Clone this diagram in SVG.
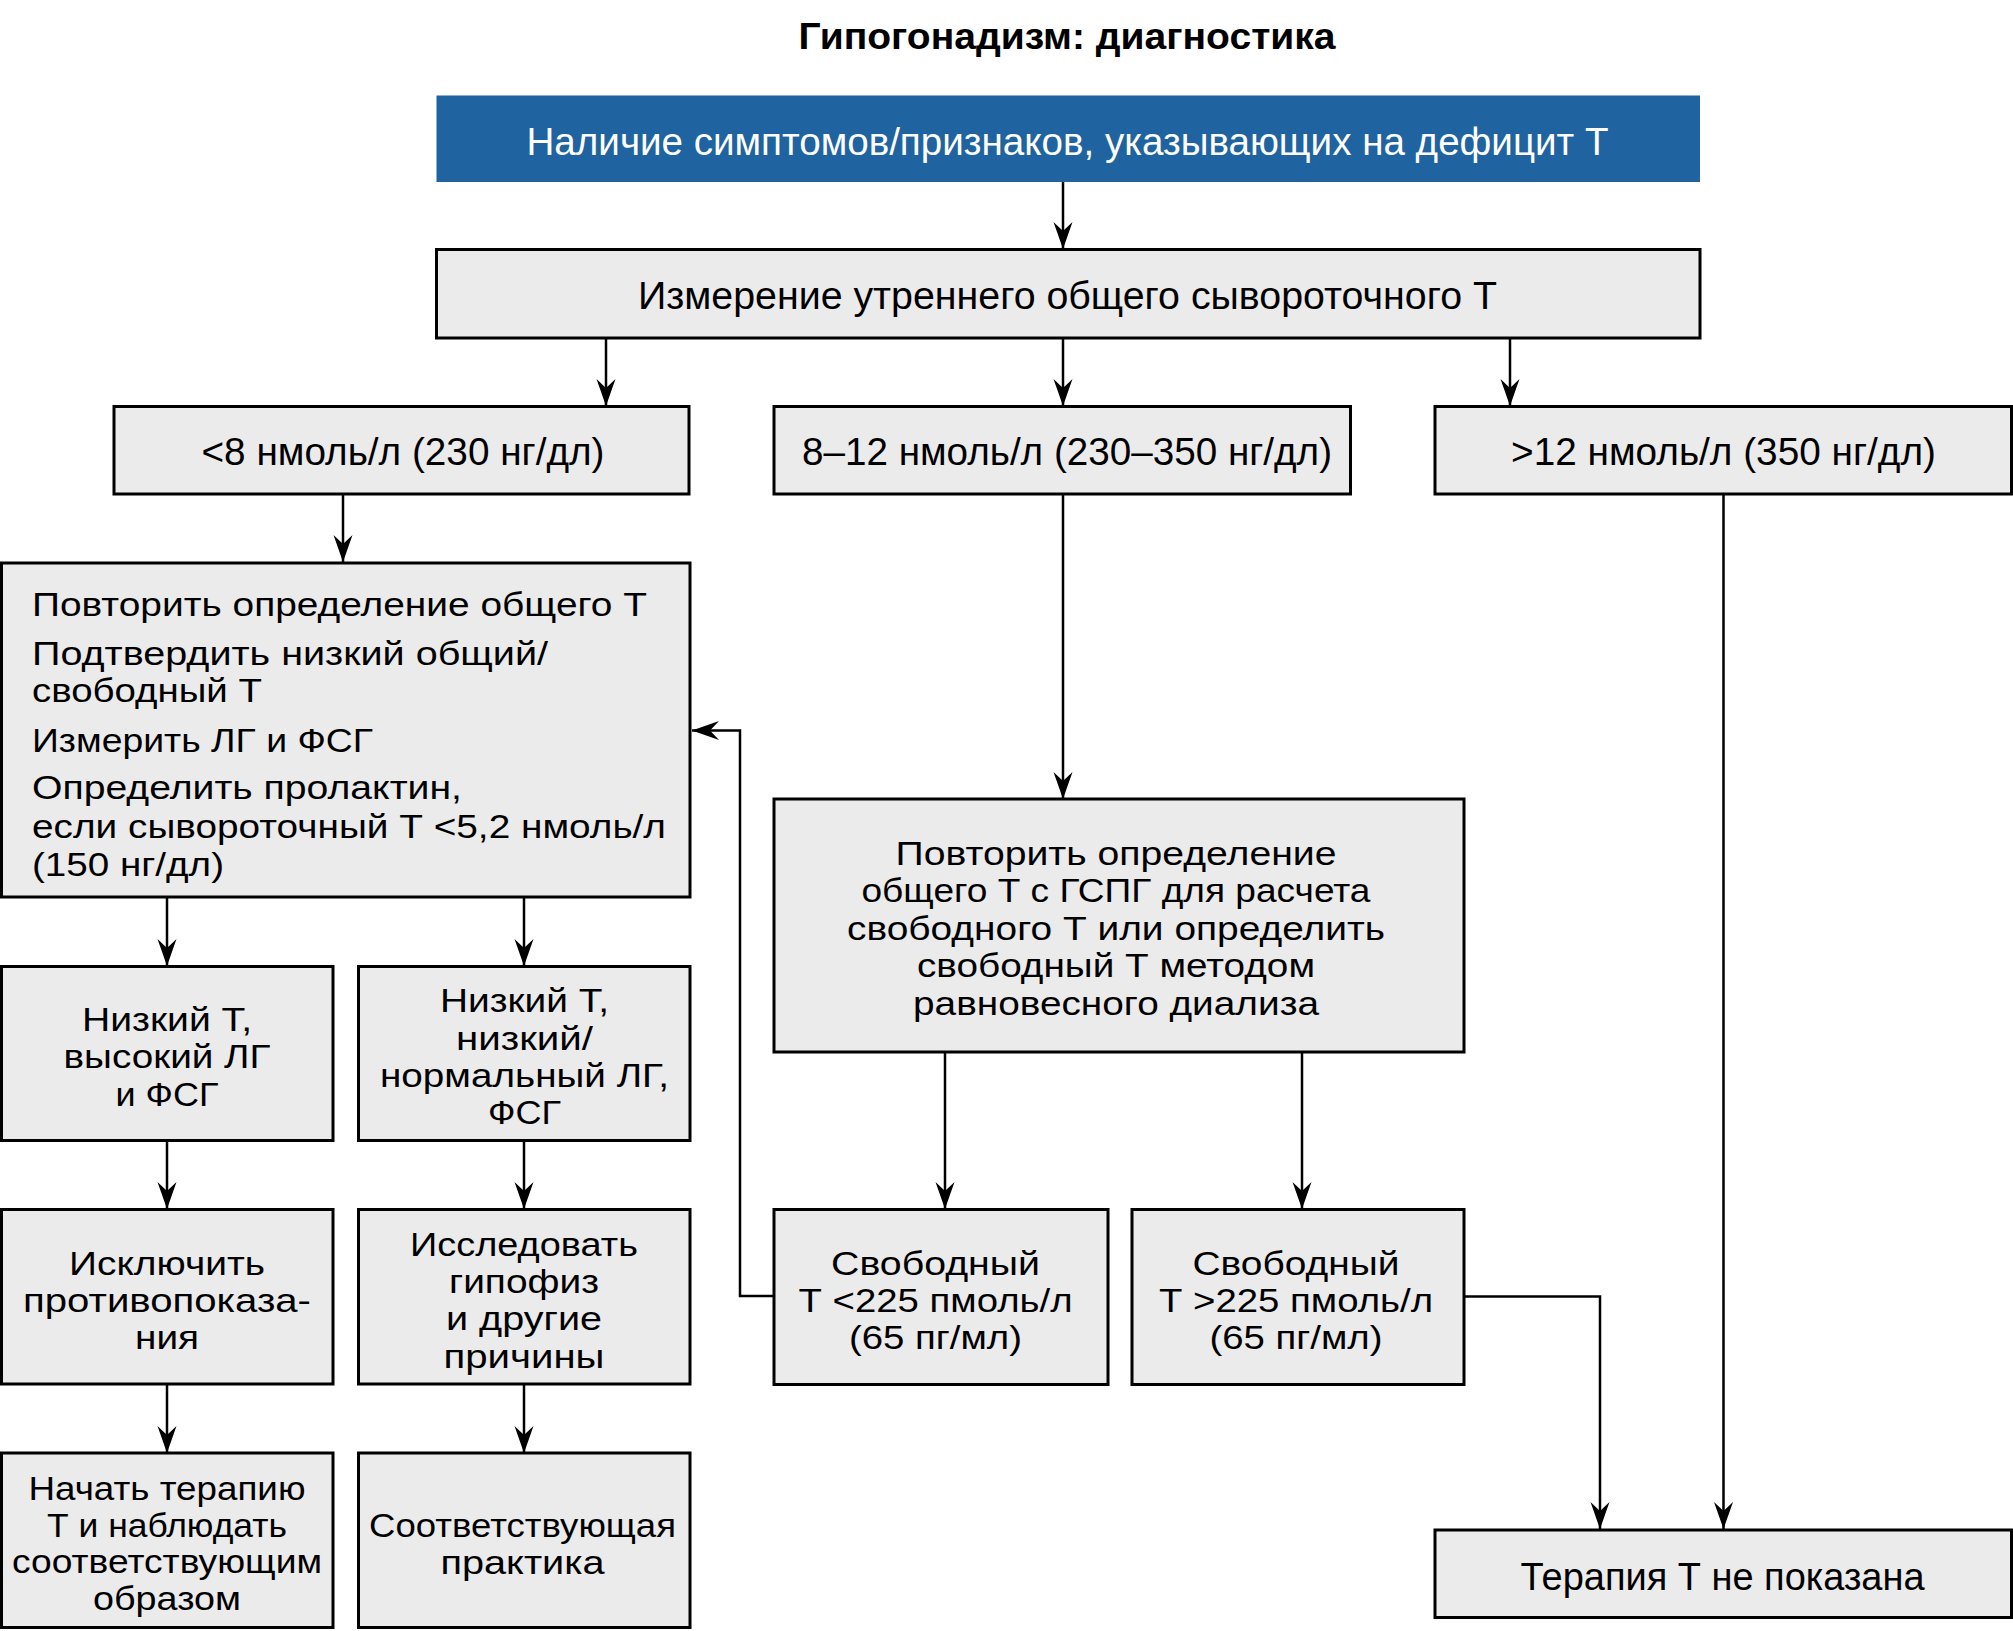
<svg xmlns="http://www.w3.org/2000/svg" width="2013" height="1631" viewBox="0 0 2013 1631">
<defs>
<marker id="ah" markerUnits="userSpaceOnUse" markerWidth="32" markerHeight="24" viewBox="-29 -12 32 24" refX="0" refY="0" orient="auto">
<path d="M0,0 L-27,-9.5 L-18,0 L-27,9.5 Z" fill="#000"/>
</marker>
</defs>
<style>
.box{fill:#ebebeb;stroke:#000;stroke-width:3}
.t{font-family:"Liberation Sans",Arial,sans-serif;font-size:38px;fill:#000}
.m{font-size:32.5px}
.c{text-anchor:middle}
.w{fill:#fff}
.ln{fill:none;stroke:#000;stroke-width:2.5}
.title{font-family:"Liberation Sans",Arial,sans-serif;font-size:36px;font-weight:bold;text-anchor:middle}
</style>
<rect width="2013" height="1631" fill="#fff"/>
<text class="title" x="1067" y="49" textLength="537" lengthAdjust="spacingAndGlyphs">Гипогонадизм: диагностика</text>

<g id="connectors">
<line class="ln" x1="1063" y1="182" x2="1063" y2="249" marker-end="url(#ah)"/>
<line class="ln" x1="606" y1="338" x2="606" y2="406" marker-end="url(#ah)"/>
<line class="ln" x1="1063" y1="338" x2="1063" y2="406" marker-end="url(#ah)"/>
<line class="ln" x1="1510" y1="338" x2="1510" y2="406" marker-end="url(#ah)"/>
<line class="ln" x1="343" y1="494" x2="343" y2="562" marker-end="url(#ah)"/>
<line class="ln" x1="1063" y1="494" x2="1063" y2="799" marker-end="url(#ah)"/>
<line class="ln" x1="1723.5" y1="494" x2="1723.5" y2="1529" marker-end="url(#ah)"/>
<line class="ln" x1="167" y1="897" x2="167" y2="966" marker-end="url(#ah)"/>
<line class="ln" x1="524" y1="897" x2="524" y2="966" marker-end="url(#ah)"/>
<line class="ln" x1="167" y1="1141" x2="167" y2="1209" marker-end="url(#ah)"/>
<line class="ln" x1="524" y1="1141" x2="524" y2="1209" marker-end="url(#ah)"/>
<line class="ln" x1="167" y1="1384" x2="167" y2="1453" marker-end="url(#ah)"/>
<line class="ln" x1="524" y1="1384" x2="524" y2="1453" marker-end="url(#ah)"/>
<line class="ln" x1="945" y1="1052" x2="945" y2="1209" marker-end="url(#ah)"/>
<line class="ln" x1="1302" y1="1052" x2="1302" y2="1209" marker-end="url(#ah)"/>
<polyline class="ln" points="774,1296 740,1296 740,730.5 692,730.5" marker-end="url(#ah)"/>
<polyline class="ln" points="1464,1296.5 1600,1296.5 1600,1529" marker-end="url(#ah)"/>
</g>

<g id="n_top">
<rect x="436.5" y="95.5" width="1263.5" height="86.5" fill="#1f63a0"/>
<text class="t c w" x="1067.5" y="155" textLength="1082" lengthAdjust="spacingAndGlyphs">Наличие симптомов/признаков, указывающих на дефицит Т</text>
</g>
<g id="n_measure">
<rect class="box" x="436.5" y="249.5" width="1263.5" height="88.5"/>
<text class="t c" x="1067.5" y="309" textLength="859" lengthAdjust="spacingAndGlyphs">Измерение утреннего общего сывороточного Т</text>
</g>
<g id="n_lt8">
<rect class="box" x="114" y="406.5" width="575" height="87.5"/>
<text class="t c" x="403" y="465" textLength="403" lengthAdjust="spacingAndGlyphs">&lt;8 нмоль/л (230 нг/дл)</text>
</g>
<g id="n_8to12">
<rect class="box" x="774" y="406.5" width="576.5" height="87.5"/>
<text class="t c" x="1067" y="465" textLength="530" lengthAdjust="spacingAndGlyphs">8–12 нмоль/л (230–350 нг/дл)</text>
</g>
<g id="n_gt12">
<rect class="box" x="1435" y="406.5" width="576.5" height="87.5"/>
<text class="t c" x="1723.5" y="465" textLength="425" lengthAdjust="spacingAndGlyphs">&gt;12 нмоль/л (350 нг/дл)</text>
</g>
<g id="n_repeat">
<rect class="box" x="1.5" y="563" width="688.5" height="334"/>
<text class="t m" x="32" y="616" textLength="615" lengthAdjust="spacingAndGlyphs">Повторить определение общего Т</text>
<text class="t m" x="32" y="664.5" textLength="516" lengthAdjust="spacingAndGlyphs">Подтвердить низкий общий/</text>
<text class="t m" x="32" y="702" textLength="230" lengthAdjust="spacingAndGlyphs">свободный Т</text>
<text class="t m" x="32" y="751.5" textLength="341" lengthAdjust="spacingAndGlyphs">Измерить ЛГ и ФСГ</text>
<text class="t m" x="32" y="799" textLength="430" lengthAdjust="spacingAndGlyphs">Определить пролактин,</text>
<text class="t m" x="32" y="837.5" textLength="634" lengthAdjust="spacingAndGlyphs">если сывороточный Т &lt;5,2 нмоль/л</text>
<text class="t m" x="32" y="876" textLength="192" lengthAdjust="spacingAndGlyphs">(150 нг/дл)</text>
</g>
<g id="n_shbg">
<rect class="box" x="774" y="799" width="690" height="253"/>
<text class="t m c" x="1116" y="864.5" textLength="441" lengthAdjust="spacingAndGlyphs">Повторить определение</text>
<text class="t m c" x="1116" y="902" textLength="509" lengthAdjust="spacingAndGlyphs">общего Т с ГСПГ для расчета</text>
<text class="t m c" x="1116" y="939.5" textLength="538" lengthAdjust="spacingAndGlyphs">свободного Т или определить</text>
<text class="t m c" x="1116" y="977" textLength="398" lengthAdjust="spacingAndGlyphs">свободный Т методом</text>
<text class="t m c" x="1116" y="1014.5" textLength="406" lengthAdjust="spacingAndGlyphs">равновесного диализа</text>
</g>
<g id="n_highlh">
<rect class="box" x="1.5" y="966.5" width="331.5" height="174"/>
<text class="t m c" x="167" y="1030.5" textLength="170" lengthAdjust="spacingAndGlyphs">Низкий Т,</text>
<text class="t m c" x="167" y="1068" textLength="207" lengthAdjust="spacingAndGlyphs">высокий ЛГ</text>
<text class="t m c" x="167" y="1105.5" textLength="103" lengthAdjust="spacingAndGlyphs">и ФСГ</text>
</g>
<g id="n_lowlh">
<rect class="box" x="358.5" y="966.5" width="331.5" height="174"/>
<text class="t m c" x="524.5" y="1012" textLength="169" lengthAdjust="spacingAndGlyphs">Низкий Т,</text>
<text class="t m c" x="524.5" y="1049.5" textLength="137" lengthAdjust="spacingAndGlyphs">низкий/</text>
<text class="t m c" x="524.5" y="1087" textLength="289" lengthAdjust="spacingAndGlyphs">нормальный ЛГ,</text>
<text class="t m c" x="524.5" y="1124" textLength="73" lengthAdjust="spacingAndGlyphs">ФСГ</text>
</g>
<g id="n_exclude">
<rect class="box" x="1.5" y="1209.5" width="331.5" height="174.5"/>
<text class="t m c" x="167" y="1274.5" textLength="196" lengthAdjust="spacingAndGlyphs">Исключить</text>
<text class="t m c" x="167" y="1311.5" textLength="288" lengthAdjust="spacingAndGlyphs">противопоказа-</text>
<text class="t m c" x="167" y="1349" textLength="64" lengthAdjust="spacingAndGlyphs">ния</text>
</g>
<g id="n_pituitary">
<rect class="box" x="358.5" y="1209.5" width="331.5" height="174.5"/>
<text class="t m c" x="524" y="1256" textLength="228" lengthAdjust="spacingAndGlyphs">Исследовать</text>
<text class="t m c" x="524" y="1293" textLength="150" lengthAdjust="spacingAndGlyphs">гипофиз</text>
<text class="t m c" x="524" y="1330" textLength="156" lengthAdjust="spacingAndGlyphs">и другие</text>
<text class="t m c" x="524" y="1367.5" textLength="161" lengthAdjust="spacingAndGlyphs">причины</text>
</g>
<g id="n_start">
<rect class="box" x="1.5" y="1453" width="331.5" height="174.5"/>
<text class="t m c" x="167" y="1500" textLength="277" lengthAdjust="spacingAndGlyphs">Начать терапию</text>
<text class="t m c" x="167" y="1536.5" textLength="240" lengthAdjust="spacingAndGlyphs">Т и наблюдать</text>
<text class="t m c" x="167" y="1573" textLength="310" lengthAdjust="spacingAndGlyphs">соответствующим</text>
<text class="t m c" x="167" y="1609.5" textLength="148" lengthAdjust="spacingAndGlyphs">образом</text>
</g>
<g id="n_practice">
<rect class="box" x="358.5" y="1453" width="331.5" height="174.5"/>
<text class="t m c" x="522.5" y="1537" textLength="307" lengthAdjust="spacingAndGlyphs">Соответствующая</text>
<text class="t m c" x="522.5" y="1574" textLength="164" lengthAdjust="spacingAndGlyphs">практика</text>
</g>
<g id="n_freelow">
<rect class="box" x="774" y="1209.5" width="334" height="175"/>
<text class="t m c" x="935.5" y="1274.5" textLength="209" lengthAdjust="spacingAndGlyphs">Свободный</text>
<text class="t m c" x="935.5" y="1311.5" textLength="274" lengthAdjust="spacingAndGlyphs">Т &lt;225 пмоль/л</text>
<text class="t m c" x="935.5" y="1349" textLength="173" lengthAdjust="spacingAndGlyphs">(65 пг/мл)</text>
</g>
<g id="n_freehigh">
<rect class="box" x="1132" y="1209.5" width="332" height="175"/>
<text class="t m c" x="1296" y="1274.5" textLength="207" lengthAdjust="spacingAndGlyphs">Свободный</text>
<text class="t m c" x="1296" y="1311.5" textLength="274" lengthAdjust="spacingAndGlyphs">Т &gt;225 пмоль/л</text>
<text class="t m c" x="1296" y="1349" textLength="173" lengthAdjust="spacingAndGlyphs">(65 пг/мл)</text>
</g>
<g id="n_notherapy">
<rect class="box" x="1435" y="1530" width="576.5" height="87.5"/>
<text class="t c" x="1722.5" y="1589.5" textLength="404" lengthAdjust="spacingAndGlyphs">Терапия Т не показана</text>
</g>
</svg>
